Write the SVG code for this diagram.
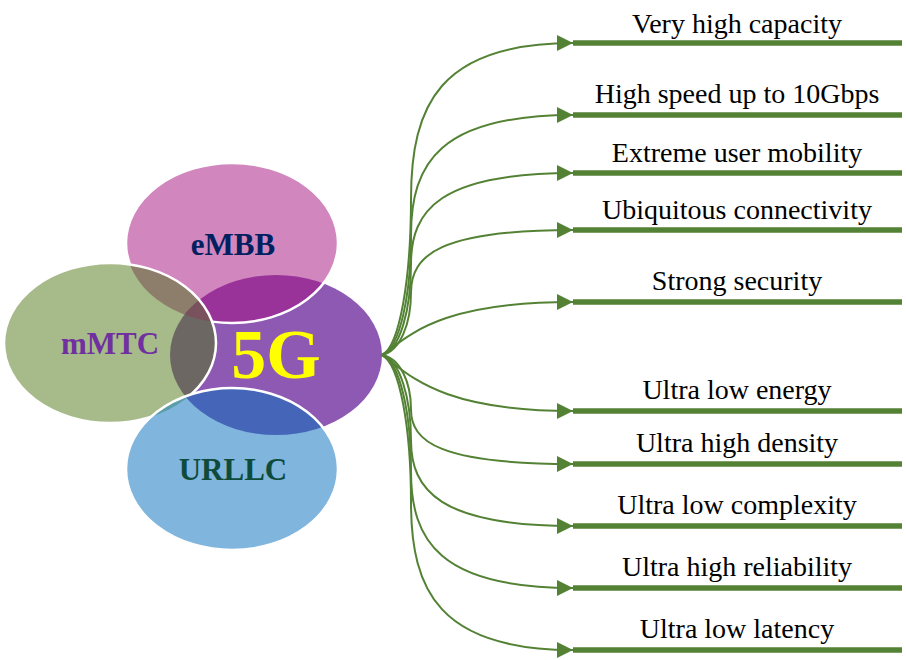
<svg xmlns="http://www.w3.org/2000/svg" width="906" height="660" viewBox="0 0 906 660">
<style>
.lbl{font-family:"Liberation Serif","Times New Roman",serif;font-size:28px;fill:#000;text-anchor:middle}
.big{font-family:"Liberation Serif","Times New Roman",serif;font-weight:bold;font-size:31px;text-anchor:middle}
.con{fill:none;stroke:#548235;stroke-width:2;marker-end:url(#arr)}
.bar{stroke:#548235;stroke-width:5.5}
.edge{fill:none;stroke:#fff;stroke-width:2.5}
</style>
<defs>
<marker id="arr" markerUnits="userSpaceOnUse" markerWidth="16" markerHeight="16" viewBox="0 0 14 14" refX="14" refY="7" orient="auto">
<path d="M0,0 L14,7 L0,14 Z" fill="#548235"/>
</marker>
<ellipse id="e5g" cx="276" cy="355" rx="106" ry="80"/>
<ellipse id="eembb" cx="232" cy="243" rx="106" ry="80"/>
<ellipse id="emmtc" cx="110" cy="343" rx="106" ry="80"/>
<ellipse id="eurllc" cx="232" cy="469" rx="106" ry="81"/>
<clipPath id="c5g"><use href="#e5g"/></clipPath>
<clipPath id="cembb"><use href="#eembb"/></clipPath>
<clipPath id="cmmtc"><use href="#emmtc"/></clipPath>
<clipPath id="curllc"><use href="#eurllc"/></clipPath>
</defs>
<rect width="906" height="660" fill="#fff"/>

<g id="node-5g">
<use href="#e5g" fill="#8E59B3"/>
</g>
<g id="node-embb">
<use href="#eembb" fill="#D186BE"/>
<g clip-path="url(#cembb)"><use href="#e5g" fill="#993399"/></g>
<use href="#eembb" class="edge"/>
</g>
<g id="node-mmtc">
<use href="#emmtc" fill="#A7BA8A"/>
<g clip-path="url(#cmmtc)">
<use href="#eembb" fill="#8D7D6B"/>
<use href="#e5g" fill="#6D6763"/>
<g clip-path="url(#cembb)"><use href="#e5g" fill="#7A525E"/></g>
</g>
<use href="#emmtc" class="edge"/>
</g>
<g id="node-urllc">
<use href="#eurllc" fill="#80B5DD"/>
<g clip-path="url(#curllc)">
<use href="#emmtc" fill="#5B9DA8"/>
<use href="#e5g" fill="#4566B8"/>
</g>
<use href="#eurllc" class="edge"/>
</g>
<g id="labels-core">
<text class="big" x="233" y="255" fill="#002060">eMBB</text>
<text class="big" x="110" y="354" fill="#7030A0">mMTC</text>
<text class="big" x="233" y="480" fill="#0E4B3B">URLLC</text>
<text class="big" x="276" y="378" fill="#FFFF00" style="font-size:70px">5G</text>
</g>

<g id="connectors">
<path class="con" d="M382,355 C400,346 411,277 411,199 C411,105 440,43 573,43"/>
<path class="con" d="M382,355 C400,348 411,295 411,235 C411,163 440,115 573,115"/>
<path class="con" d="M382,355 C400,350 411,310 411,264 C411,210 440,173 573,173"/>
<path class="con" d="M382,355 C400,351 411,324 411,292.5 C411,255 440,230 573,230"/>
<path class="con" d="M382,355 C410,335 440,302 573,302"/>
<path class="con" d="M382,355 C410,375 440,411 573,411"/>
<path class="con" d="M382,355 C400,358 411,382 411,409.5 C411,442 440,464 573,464"/>
<path class="con" d="M382,355 C400,360 411,398 411,440.5 C411,490 440,526 573,526"/>
<path class="con" d="M382,355 C400,362 411,413 411,471.5 C411,541 440,588 573,588"/>
<path class="con" d="M382,355 C400,364 411,429 411,502.5 C411,591 440,650 573,650"/>
</g>

<g id="node-capacity"><line class="bar" x1="573" y1="43" x2="902" y2="43"/><text class="lbl" x="737" y="33">Very high capacity</text></g>
<g id="node-speed"><line class="bar" x1="573" y1="115" x2="902" y2="115"/><text class="lbl" x="737" y="103">High speed up to 10Gbps</text></g>
<g id="node-mobility"><line class="bar" x1="573" y1="173" x2="902" y2="173"/><text class="lbl" x="737" y="162">Extreme user mobility</text></g>
<g id="node-connectivity"><line class="bar" x1="573" y1="230" x2="902" y2="230"/><text class="lbl" x="737" y="219">Ubiquitous connectivity</text></g>
<g id="node-security"><line class="bar" x1="573" y1="302" x2="902" y2="302"/><text class="lbl" x="737" y="290">Strong security</text></g>
<g id="node-energy"><line class="bar" x1="573" y1="411" x2="902" y2="411"/><text class="lbl" x="737" y="399">Ultra low energy</text></g>
<g id="node-density"><line class="bar" x1="573" y1="464" x2="902" y2="464"/><text class="lbl" x="737" y="452">Ultra high density</text></g>
<g id="node-complexity"><line class="bar" x1="573" y1="526" x2="902" y2="526"/><text class="lbl" x="737" y="514">Ultra low complexity</text></g>
<g id="node-reliability"><line class="bar" x1="573" y1="588" x2="902" y2="588"/><text class="lbl" x="737" y="576">Ultra high reliability</text></g>
<g id="node-latency"><line class="bar" x1="573" y1="650" x2="902" y2="650"/><text class="lbl" x="737" y="638">Ultra low latency</text></g>
</svg>
